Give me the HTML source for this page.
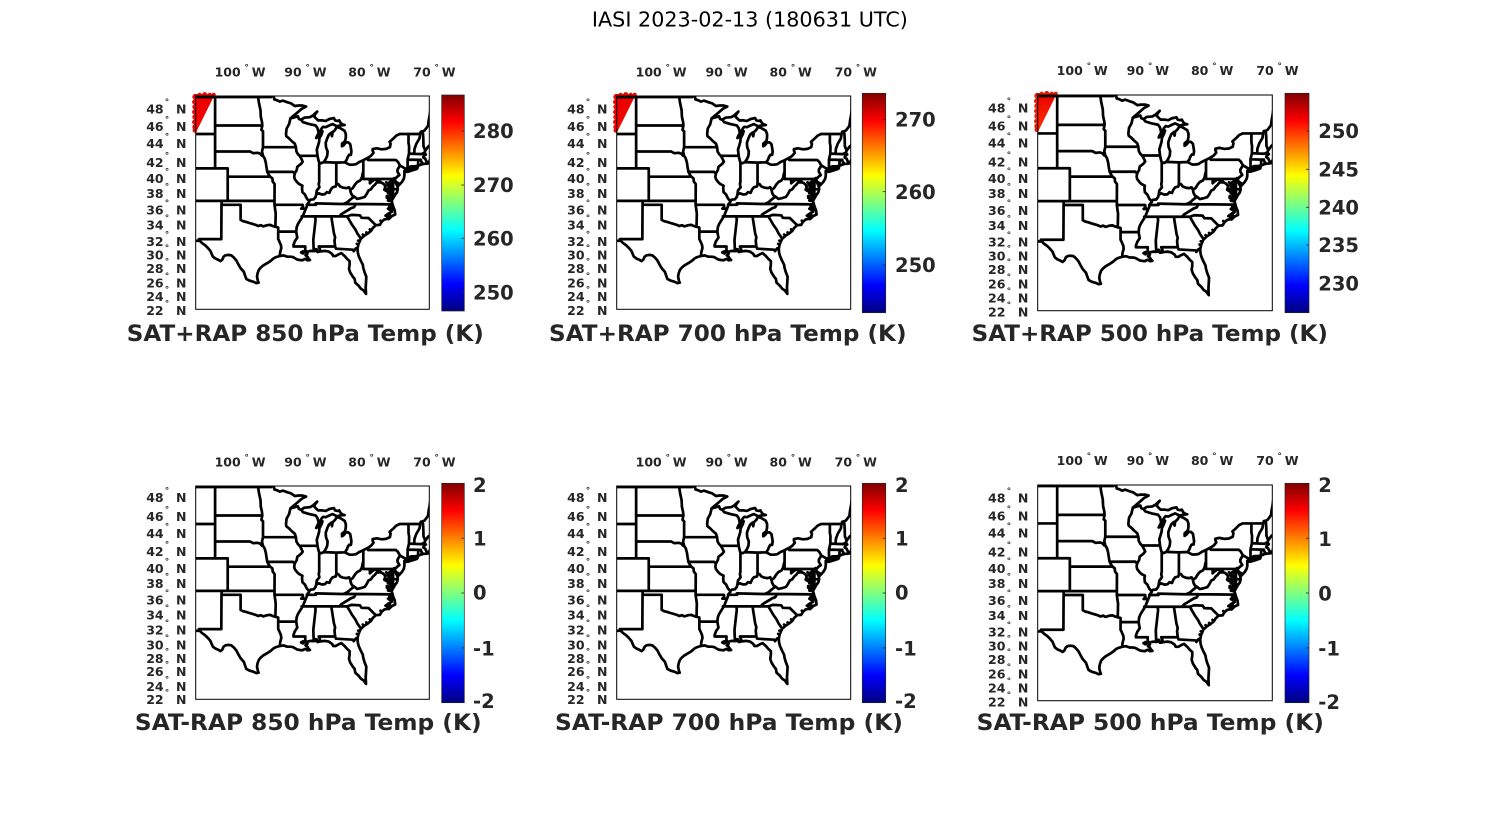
<!DOCTYPE html>
<html><head><meta charset="utf-8"><style>
html,body{margin:0;padding:0;background:#fff;}
svg{display:block;}
.t{font-family:"DejaVu Sans","Liberation Sans",sans-serif;font-weight:bold;font-size:12.5px;fill:#262626;}
.d{font-size:9px;}
.cb{font-family:"DejaVu Sans","Liberation Sans",sans-serif;font-weight:bold;font-size:19.5px;fill:#262626;}
.ti{font-family:"DejaVu Sans","Liberation Sans",sans-serif;font-weight:bold;font-size:22.5px;fill:#262626;}
.map{fill:none;stroke:#000;stroke-width:2.7;stroke-linejoin:round;stroke-linecap:round;}
.box{fill:none;stroke:#000;stroke-width:1;}
.cbr{stroke:#262626;stroke-width:0.7;}
.tk{stroke:#262626;stroke-width:0.8;}
</style></head><body>
<svg width="1500" height="825" viewBox="0 0 1500 825" xmlns="http://www.w3.org/2000/svg">
<defs>
<linearGradient id="jet" x1="0" y1="1" x2="0" y2="0">
<stop offset="0" stop-color="#000080"/><stop offset="0.125" stop-color="#0000ff"/><stop offset="0.375" stop-color="#00ffff"/><stop offset="0.625" stop-color="#ffff00"/><stop offset="0.875" stop-color="#ff0000"/><stop offset="1" stop-color="#800000"/>
</linearGradient>
<linearGradient id="red1" x1="0" y1="0" x2="0" y2="1"><stop offset="0" stop-color="#e80000"/><stop offset="1" stop-color="#f80800"/></linearGradient>
<linearGradient id="red3" x1="0" y1="0" x2="0" y2="1"><stop offset="0" stop-color="#e80000"/><stop offset="1" stop-color="#ff3000"/></linearGradient>
<clipPath id="clip"><rect x="0" y="0" width="233.6" height="213.3"/></clipPath>
<path id="usmap" class="map" d=""/>
<g id="redreg">
<polygon points="-2,-2 19.3,-2 0.5,36 -2,36"/>
<circle cx="-1" cy="1" r="2.4"/><circle cx="-1.5" cy="6" r="2.2"/><circle cx="-1" cy="11" r="2.4"/><circle cx="-1.5" cy="16" r="2.2"/><circle cx="-1" cy="21" r="2.4"/><circle cx="-1.5" cy="26" r="2.2"/><circle cx="-1" cy="31" r="2.4"/><circle cx="-1" cy="34.5" r="2.2"/>
<circle cx="4" cy="-1" r="2.2"/><circle cx="9" cy="-1.5" r="2.4"/><circle cx="14" cy="-1" r="2.2"/><circle cx="18" cy="-1.2" r="2"/>
</g>
</defs>

<text x="749.9" y="26.7" text-anchor="middle" textLength="316" lengthAdjust="spacingAndGlyphs" style="font-family:'DejaVu Sans','Liberation Sans',sans-serif;font-size:20.5px;fill:#000;">IASI 2023-02-13 (180631 UTC)</text>

<!-- ============ PANEL 1 TOP ============ -->
<g transform="translate(195.7,96)">
<use href="#redreg" fill="url(#red1)"/>
<g clip-path="url(#clip)"><use href="#usmap"/></g>
<rect class="box" x="0" y="0" width="233.6" height="213.3"/>
<g class="t">
<text x="18.9" y="-19.7">100<tspan x="48.7" dy="-6" class="d">°</tspan><tspan x="56" dy="6">W</tspan></text>
<text x="88.6" y="-19.7">90<tspan x="109.7" dy="-6" class="d">°</tspan><tspan x="117" dy="6">W</tspan></text>
<text x="152.6" y="-19.7">80<tspan x="173.7" dy="-6" class="d">°</tspan><tspan x="181" dy="6">W</tspan></text>
<text x="217.6" y="-19.7">70<tspan x="238.7" dy="-6" class="d">°</tspan><tspan x="246" dy="6">W</tspan></text>
<text x="-49.5" y="17.5">48<tspan x="-30.9" dy="-8.5" class="d">°</tspan><tspan x="-19.7" dy="8.5">N</tspan></text>
<text x="-49.5" y="35.2">46<tspan x="-30.9" dy="-8.5" class="d">°</tspan><tspan x="-19.7" dy="8.5">N</tspan></text>
<text x="-49.5" y="51.8">44<tspan x="-30.9" dy="-8.5" class="d">°</tspan><tspan x="-19.7" dy="8.5">N</tspan></text>
<text x="-49.5" y="70.9">42<tspan x="-30.9" dy="-8.5" class="d">°</tspan><tspan x="-19.7" dy="8.5">N</tspan></text>
<text x="-49.5" y="86.8">40<tspan x="-30.9" dy="-8.5" class="d">°</tspan><tspan x="-19.7" dy="8.5">N</tspan></text>
<text x="-49.5" y="101.8">38<tspan x="-30.9" dy="-8.5" class="d">°</tspan><tspan x="-19.7" dy="8.5">N</tspan></text>
<text x="-49.5" y="118.5">36<tspan x="-30.9" dy="-8.5" class="d">°</tspan><tspan x="-19.7" dy="8.5">N</tspan></text>
<text x="-49.5" y="133.5">34<tspan x="-30.9" dy="-8.5" class="d">°</tspan><tspan x="-19.7" dy="8.5">N</tspan></text>
<text x="-49.5" y="149.8">32<tspan x="-30.9" dy="-8.5" class="d">°</tspan><tspan x="-19.7" dy="8.5">N</tspan></text>
<text x="-49.5" y="163.5">30<tspan x="-30.9" dy="-8.5" class="d">°</tspan><tspan x="-19.7" dy="8.5">N</tspan></text>
<text x="-49.5" y="176.8">28<tspan x="-30.9" dy="-8.5" class="d">°</tspan><tspan x="-19.7" dy="8.5">N</tspan></text>
<text x="-49.5" y="191.3">26<tspan x="-30.9" dy="-8.5" class="d">°</tspan><tspan x="-19.7" dy="8.5">N</tspan></text>
<text x="-49.5" y="205.2">24<tspan x="-30.9" dy="-8.5" class="d">°</tspan><tspan x="-19.7" dy="8.5">N</tspan></text>
<text x="-49.5" y="219.2">22<tspan x="-30.9" dy="-8.5" class="d">°</tspan><tspan x="-19.7" dy="8.5">N</tspan></text>
</g>
</g>
<rect class="cbr" x="441.7" y="95" width="22.6" height="216" fill="url(#jet)"/>
<g class="tk"><line x1="461.3" y1="131" x2="464.3" y2="131"/><line x1="461.3" y1="185" x2="464.3" y2="185"/><line x1="461.3" y1="238.3" x2="464.3" y2="238.3"/><line x1="461.3" y1="292.3" x2="464.3" y2="292.3"/></g>
<g class="cb"><text x="473" y="138.1">280</text><text x="473" y="192.1">270</text><text x="473" y="245.4">260</text><text x="473" y="299.4">250</text></g>
<text class="ti" x="305.3" y="341" text-anchor="middle" textLength="357" lengthAdjust="spacingAndGlyphs">SAT+RAP 850 hPa Temp (K)</text>

<!-- ============ PANEL 2 TOP ============ -->
<g transform="translate(616.7,96) scale(1.0017,1)">
<use href="#redreg" fill="url(#red1)"/>
<g clip-path="url(#clip)"><use href="#usmap"/></g>
<rect class="box" x="0" y="0" width="233.6" height="213.3"/>
<g class="t">
<text x="18.9" y="-19.7">100<tspan x="48.7" dy="-6" class="d">°</tspan><tspan x="56" dy="6">W</tspan></text>
<text x="88.6" y="-19.7">90<tspan x="109.7" dy="-6" class="d">°</tspan><tspan x="117" dy="6">W</tspan></text>
<text x="152.6" y="-19.7">80<tspan x="173.7" dy="-6" class="d">°</tspan><tspan x="181" dy="6">W</tspan></text>
<text x="217.6" y="-19.7">70<tspan x="238.7" dy="-6" class="d">°</tspan><tspan x="246" dy="6">W</tspan></text>
<text x="-49.5" y="17.5">48<tspan x="-30.9" dy="-8.5" class="d">°</tspan><tspan x="-19.7" dy="8.5">N</tspan></text>
<text x="-49.5" y="35.2">46<tspan x="-30.9" dy="-8.5" class="d">°</tspan><tspan x="-19.7" dy="8.5">N</tspan></text>
<text x="-49.5" y="51.8">44<tspan x="-30.9" dy="-8.5" class="d">°</tspan><tspan x="-19.7" dy="8.5">N</tspan></text>
<text x="-49.5" y="70.9">42<tspan x="-30.9" dy="-8.5" class="d">°</tspan><tspan x="-19.7" dy="8.5">N</tspan></text>
<text x="-49.5" y="86.8">40<tspan x="-30.9" dy="-8.5" class="d">°</tspan><tspan x="-19.7" dy="8.5">N</tspan></text>
<text x="-49.5" y="101.8">38<tspan x="-30.9" dy="-8.5" class="d">°</tspan><tspan x="-19.7" dy="8.5">N</tspan></text>
<text x="-49.5" y="118.5">36<tspan x="-30.9" dy="-8.5" class="d">°</tspan><tspan x="-19.7" dy="8.5">N</tspan></text>
<text x="-49.5" y="133.5">34<tspan x="-30.9" dy="-8.5" class="d">°</tspan><tspan x="-19.7" dy="8.5">N</tspan></text>
<text x="-49.5" y="149.8">32<tspan x="-30.9" dy="-8.5" class="d">°</tspan><tspan x="-19.7" dy="8.5">N</tspan></text>
<text x="-49.5" y="163.5">30<tspan x="-30.9" dy="-8.5" class="d">°</tspan><tspan x="-19.7" dy="8.5">N</tspan></text>
<text x="-49.5" y="176.8">28<tspan x="-30.9" dy="-8.5" class="d">°</tspan><tspan x="-19.7" dy="8.5">N</tspan></text>
<text x="-49.5" y="191.3">26<tspan x="-30.9" dy="-8.5" class="d">°</tspan><tspan x="-19.7" dy="8.5">N</tspan></text>
<text x="-49.5" y="205.2">24<tspan x="-30.9" dy="-8.5" class="d">°</tspan><tspan x="-19.7" dy="8.5">N</tspan></text>
<text x="-49.5" y="219.2">22<tspan x="-30.9" dy="-8.5" class="d">°</tspan><tspan x="-19.7" dy="8.5">N</tspan></text>
</g>
</g>
<rect class="cbr" x="862.3" y="93.3" width="23.4" height="219.4" fill="url(#jet)"/>
<g class="tk"><line x1="882.7" y1="119.3" x2="885.7" y2="119.3"/><line x1="882.7" y1="191.7" x2="885.7" y2="191.7"/><line x1="882.7" y1="265" x2="885.7" y2="265"/></g>
<g class="cb"><text x="895" y="126.4">270</text><text x="895" y="198.8">260</text><text x="895" y="272.1">250</text></g>
<text class="ti" x="727.8" y="341" text-anchor="middle" textLength="357.5" lengthAdjust="spacingAndGlyphs">SAT+RAP 700 hPa Temp (K)</text>

<!-- ============ PANEL 3 TOP ============ -->
<g transform="translate(1037.7,95) scale(1.0043,1.0113)">
<use href="#redreg" fill="url(#red3)"/>
<g clip-path="url(#clip)"><use href="#usmap"/></g>
<rect class="box" x="0" y="0" width="233.6" height="213.3"/>
<g class="t">
<text x="18.9" y="-19.7">100<tspan x="48.7" dy="-6" class="d">°</tspan><tspan x="56" dy="6">W</tspan></text>
<text x="88.6" y="-19.7">90<tspan x="109.7" dy="-6" class="d">°</tspan><tspan x="117" dy="6">W</tspan></text>
<text x="152.6" y="-19.7">80<tspan x="173.7" dy="-6" class="d">°</tspan><tspan x="181" dy="6">W</tspan></text>
<text x="217.6" y="-19.7">70<tspan x="238.7" dy="-6" class="d">°</tspan><tspan x="246" dy="6">W</tspan></text>
<text x="-49.5" y="17.5">48<tspan x="-30.9" dy="-8.5" class="d">°</tspan><tspan x="-19.7" dy="8.5">N</tspan></text>
<text x="-49.5" y="35.2">46<tspan x="-30.9" dy="-8.5" class="d">°</tspan><tspan x="-19.7" dy="8.5">N</tspan></text>
<text x="-49.5" y="51.8">44<tspan x="-30.9" dy="-8.5" class="d">°</tspan><tspan x="-19.7" dy="8.5">N</tspan></text>
<text x="-49.5" y="70.9">42<tspan x="-30.9" dy="-8.5" class="d">°</tspan><tspan x="-19.7" dy="8.5">N</tspan></text>
<text x="-49.5" y="86.8">40<tspan x="-30.9" dy="-8.5" class="d">°</tspan><tspan x="-19.7" dy="8.5">N</tspan></text>
<text x="-49.5" y="101.8">38<tspan x="-30.9" dy="-8.5" class="d">°</tspan><tspan x="-19.7" dy="8.5">N</tspan></text>
<text x="-49.5" y="118.5">36<tspan x="-30.9" dy="-8.5" class="d">°</tspan><tspan x="-19.7" dy="8.5">N</tspan></text>
<text x="-49.5" y="133.5">34<tspan x="-30.9" dy="-8.5" class="d">°</tspan><tspan x="-19.7" dy="8.5">N</tspan></text>
<text x="-49.5" y="149.8">32<tspan x="-30.9" dy="-8.5" class="d">°</tspan><tspan x="-19.7" dy="8.5">N</tspan></text>
<text x="-49.5" y="163.5">30<tspan x="-30.9" dy="-8.5" class="d">°</tspan><tspan x="-19.7" dy="8.5">N</tspan></text>
<text x="-49.5" y="176.8">28<tspan x="-30.9" dy="-8.5" class="d">°</tspan><tspan x="-19.7" dy="8.5">N</tspan></text>
<text x="-49.5" y="191.3">26<tspan x="-30.9" dy="-8.5" class="d">°</tspan><tspan x="-19.7" dy="8.5">N</tspan></text>
<text x="-49.5" y="205.2">24<tspan x="-30.9" dy="-8.5" class="d">°</tspan><tspan x="-19.7" dy="8.5">N</tspan></text>
<text x="-49.5" y="219.2">22<tspan x="-30.9" dy="-8.5" class="d">°</tspan><tspan x="-19.7" dy="8.5">N</tspan></text>
</g>
</g>
<rect class="cbr" x="1285" y="93.3" width="24" height="219.4" fill="url(#jet)"/>
<g class="tk"><line x1="1306" y1="131" x2="1309" y2="131"/><line x1="1306" y1="169.3" x2="1309" y2="169.3"/><line x1="1306" y1="207.3" x2="1309" y2="207.3"/><line x1="1306" y1="245" x2="1309" y2="245"/><line x1="1306" y1="283.3" x2="1309" y2="283.3"/></g>
<g class="cb"><text x="1318.3" y="138.1">250</text><text x="1318.3" y="176.4">245</text><text x="1318.3" y="214.4">240</text><text x="1318.3" y="252.1">235</text><text x="1318.3" y="290.4">230</text></g>
<text class="ti" x="1149.8" y="341" text-anchor="middle" textLength="356.3" lengthAdjust="spacingAndGlyphs">SAT+RAP 500 hPa Temp (K)</text>

<!-- ============ PANEL 1 BOTTOM ============ -->
<g transform="translate(195.7,486)">
<g clip-path="url(#clip)"><use href="#usmap"/></g>
<rect class="box" x="0" y="0" width="233.6" height="213.3"/>
<g class="t">
<text x="18.9" y="-19.7">100<tspan x="48.7" dy="-6" class="d">°</tspan><tspan x="56" dy="6">W</tspan></text>
<text x="88.6" y="-19.7">90<tspan x="109.7" dy="-6" class="d">°</tspan><tspan x="117" dy="6">W</tspan></text>
<text x="152.6" y="-19.7">80<tspan x="173.7" dy="-6" class="d">°</tspan><tspan x="181" dy="6">W</tspan></text>
<text x="217.6" y="-19.7">70<tspan x="238.7" dy="-6" class="d">°</tspan><tspan x="246" dy="6">W</tspan></text>
<text x="-49.5" y="16.2">48<tspan x="-30.9" dy="-8.5" class="d">°</tspan><tspan x="-19.7" dy="8.5">N</tspan></text>
<text x="-49.5" y="35.2">46<tspan x="-30.9" dy="-8.5" class="d">°</tspan><tspan x="-19.7" dy="8.5">N</tspan></text>
<text x="-49.5" y="51.8">44<tspan x="-30.9" dy="-8.5" class="d">°</tspan><tspan x="-19.7" dy="8.5">N</tspan></text>
<text x="-49.5" y="70.2">42<tspan x="-30.9" dy="-8.5" class="d">°</tspan><tspan x="-19.7" dy="8.5">N</tspan></text>
<text x="-49.5" y="86.8">40<tspan x="-30.9" dy="-8.5" class="d">°</tspan><tspan x="-19.7" dy="8.5">N</tspan></text>
<text x="-49.5" y="101.8">38<tspan x="-30.9" dy="-8.5" class="d">°</tspan><tspan x="-19.7" dy="8.5">N</tspan></text>
<text x="-49.5" y="118.5">36<tspan x="-30.9" dy="-8.5" class="d">°</tspan><tspan x="-19.7" dy="8.5">N</tspan></text>
<text x="-49.5" y="133.5">34<tspan x="-30.9" dy="-8.5" class="d">°</tspan><tspan x="-19.7" dy="8.5">N</tspan></text>
<text x="-49.5" y="148.5">32<tspan x="-30.9" dy="-8.5" class="d">°</tspan><tspan x="-19.7" dy="8.5">N</tspan></text>
<text x="-49.5" y="163.5">30<tspan x="-30.9" dy="-8.5" class="d">°</tspan><tspan x="-19.7" dy="8.5">N</tspan></text>
<text x="-49.5" y="176.8">28<tspan x="-30.9" dy="-8.5" class="d">°</tspan><tspan x="-19.7" dy="8.5">N</tspan></text>
<text x="-49.5" y="190.2">26<tspan x="-30.9" dy="-8.5" class="d">°</tspan><tspan x="-19.7" dy="8.5">N</tspan></text>
<text x="-49.5" y="205.2">24<tspan x="-30.9" dy="-8.5" class="d">°</tspan><tspan x="-19.7" dy="8.5">N</tspan></text>
<text x="-49.5" y="217.8">22<tspan x="-30.9" dy="-8.5" class="d">°</tspan><tspan x="-19.7" dy="8.5">N</tspan></text>
</g>
</g>
<rect class="cbr" x="441.7" y="483.3" width="22.6" height="219.4" fill="url(#jet)"/>
<g class="tk"><line x1="461.3" y1="538.2" x2="464.3" y2="538.2"/><line x1="461.3" y1="593" x2="464.3" y2="593"/><line x1="461.3" y1="647.9" x2="464.3" y2="647.9"/></g>
<g class="cb"><text x="473" y="492.1">2</text><text x="473" y="545.4">1</text><text x="473" y="599.6">0</text><text x="473" y="655.4">-1</text><text x="473" y="707.8">-2</text></g>
<text class="ti" x="308.3" y="730" text-anchor="middle" textLength="346.7" lengthAdjust="spacingAndGlyphs">SAT-RAP 850 hPa Temp (K)</text>

<!-- ============ PANEL 2 BOTTOM ============ -->
<g transform="translate(616.7,486) scale(1.0017,1)">
<g clip-path="url(#clip)"><use href="#usmap"/></g>
<rect class="box" x="0" y="0" width="233.6" height="213.3"/>
<g class="t">
<text x="18.9" y="-19.7">100<tspan x="48.7" dy="-6" class="d">°</tspan><tspan x="56" dy="6">W</tspan></text>
<text x="88.6" y="-19.7">90<tspan x="109.7" dy="-6" class="d">°</tspan><tspan x="117" dy="6">W</tspan></text>
<text x="152.6" y="-19.7">80<tspan x="173.7" dy="-6" class="d">°</tspan><tspan x="181" dy="6">W</tspan></text>
<text x="217.6" y="-19.7">70<tspan x="238.7" dy="-6" class="d">°</tspan><tspan x="246" dy="6">W</tspan></text>
<text x="-49.5" y="16.2">48<tspan x="-30.9" dy="-8.5" class="d">°</tspan><tspan x="-19.7" dy="8.5">N</tspan></text>
<text x="-49.5" y="35.2">46<tspan x="-30.9" dy="-8.5" class="d">°</tspan><tspan x="-19.7" dy="8.5">N</tspan></text>
<text x="-49.5" y="51.8">44<tspan x="-30.9" dy="-8.5" class="d">°</tspan><tspan x="-19.7" dy="8.5">N</tspan></text>
<text x="-49.5" y="70.2">42<tspan x="-30.9" dy="-8.5" class="d">°</tspan><tspan x="-19.7" dy="8.5">N</tspan></text>
<text x="-49.5" y="86.8">40<tspan x="-30.9" dy="-8.5" class="d">°</tspan><tspan x="-19.7" dy="8.5">N</tspan></text>
<text x="-49.5" y="101.8">38<tspan x="-30.9" dy="-8.5" class="d">°</tspan><tspan x="-19.7" dy="8.5">N</tspan></text>
<text x="-49.5" y="118.5">36<tspan x="-30.9" dy="-8.5" class="d">°</tspan><tspan x="-19.7" dy="8.5">N</tspan></text>
<text x="-49.5" y="133.5">34<tspan x="-30.9" dy="-8.5" class="d">°</tspan><tspan x="-19.7" dy="8.5">N</tspan></text>
<text x="-49.5" y="148.5">32<tspan x="-30.9" dy="-8.5" class="d">°</tspan><tspan x="-19.7" dy="8.5">N</tspan></text>
<text x="-49.5" y="163.5">30<tspan x="-30.9" dy="-8.5" class="d">°</tspan><tspan x="-19.7" dy="8.5">N</tspan></text>
<text x="-49.5" y="176.8">28<tspan x="-30.9" dy="-8.5" class="d">°</tspan><tspan x="-19.7" dy="8.5">N</tspan></text>
<text x="-49.5" y="190.2">26<tspan x="-30.9" dy="-8.5" class="d">°</tspan><tspan x="-19.7" dy="8.5">N</tspan></text>
<text x="-49.5" y="205.2">24<tspan x="-30.9" dy="-8.5" class="d">°</tspan><tspan x="-19.7" dy="8.5">N</tspan></text>
<text x="-49.5" y="217.8">22<tspan x="-30.9" dy="-8.5" class="d">°</tspan><tspan x="-19.7" dy="8.5">N</tspan></text>
</g>
</g>
<rect class="cbr" x="862.3" y="483.3" width="23.4" height="219.4" fill="url(#jet)"/>
<g class="tk"><line x1="882.7" y1="538.2" x2="885.7" y2="538.2"/><line x1="882.7" y1="593" x2="885.7" y2="593"/><line x1="882.7" y1="647.9" x2="885.7" y2="647.9"/></g>
<g class="cb"><text x="895" y="492.1">2</text><text x="895" y="545.4">1</text><text x="895" y="599.6">0</text><text x="895" y="655.4">-1</text><text x="895" y="707.8">-2</text></g>
<text class="ti" x="729" y="730" text-anchor="middle" textLength="348" lengthAdjust="spacingAndGlyphs">SAT-RAP 700 hPa Temp (K)</text>

<!-- ============ PANEL 3 BOTTOM ============ -->
<g transform="translate(1037.7,485) scale(1.0043,1.0113)">
<g clip-path="url(#clip)"><use href="#usmap"/></g>
<rect class="box" x="0" y="0" width="233.6" height="213.3"/>
<g class="t">
<text x="18.9" y="-19.7">100<tspan x="48.7" dy="-6" class="d">°</tspan><tspan x="56" dy="6">W</tspan></text>
<text x="88.6" y="-19.7">90<tspan x="109.7" dy="-6" class="d">°</tspan><tspan x="117" dy="6">W</tspan></text>
<text x="152.6" y="-19.7">80<tspan x="173.7" dy="-6" class="d">°</tspan><tspan x="181" dy="6">W</tspan></text>
<text x="217.6" y="-19.7">70<tspan x="238.7" dy="-6" class="d">°</tspan><tspan x="246" dy="6">W</tspan></text>
<text x="-49.5" y="17.5">48<tspan x="-30.9" dy="-8.5" class="d">°</tspan><tspan x="-19.7" dy="8.5">N</tspan></text>
<text x="-49.5" y="35.2">46<tspan x="-30.9" dy="-8.5" class="d">°</tspan><tspan x="-19.7" dy="8.5">N</tspan></text>
<text x="-49.5" y="51.8">44<tspan x="-30.9" dy="-8.5" class="d">°</tspan><tspan x="-19.7" dy="8.5">N</tspan></text>
<text x="-49.5" y="70.9">42<tspan x="-30.9" dy="-8.5" class="d">°</tspan><tspan x="-19.7" dy="8.5">N</tspan></text>
<text x="-49.5" y="86.8">40<tspan x="-30.9" dy="-8.5" class="d">°</tspan><tspan x="-19.7" dy="8.5">N</tspan></text>
<text x="-49.5" y="101.8">38<tspan x="-30.9" dy="-8.5" class="d">°</tspan><tspan x="-19.7" dy="8.5">N</tspan></text>
<text x="-49.5" y="118.5">36<tspan x="-30.9" dy="-8.5" class="d">°</tspan><tspan x="-19.7" dy="8.5">N</tspan></text>
<text x="-49.5" y="133.5">34<tspan x="-30.9" dy="-8.5" class="d">°</tspan><tspan x="-19.7" dy="8.5">N</tspan></text>
<text x="-49.5" y="149.8">32<tspan x="-30.9" dy="-8.5" class="d">°</tspan><tspan x="-19.7" dy="8.5">N</tspan></text>
<text x="-49.5" y="163.5">30<tspan x="-30.9" dy="-8.5" class="d">°</tspan><tspan x="-19.7" dy="8.5">N</tspan></text>
<text x="-49.5" y="176.8">28<tspan x="-30.9" dy="-8.5" class="d">°</tspan><tspan x="-19.7" dy="8.5">N</tspan></text>
<text x="-49.5" y="191.3">26<tspan x="-30.9" dy="-8.5" class="d">°</tspan><tspan x="-19.7" dy="8.5">N</tspan></text>
<text x="-49.5" y="205.2">24<tspan x="-30.9" dy="-8.5" class="d">°</tspan><tspan x="-19.7" dy="8.5">N</tspan></text>
<text x="-49.5" y="219.2">22<tspan x="-30.9" dy="-8.5" class="d">°</tspan><tspan x="-19.7" dy="8.5">N</tspan></text>
</g>
</g>
<rect class="cbr" x="1285" y="483.3" width="24" height="219.4" fill="url(#jet)"/>
<g class="tk"><line x1="1306" y1="538.2" x2="1309" y2="538.2"/><line x1="1306" y1="593" x2="1309" y2="593"/><line x1="1306" y1="647.9" x2="1309" y2="647.9"/></g>
<g class="cb"><text x="1318.3" y="492.1">2</text><text x="1318.3" y="546.1">1</text><text x="1318.3" y="600.4">0</text><text x="1318.3" y="655.4">-1</text><text x="1318.3" y="708.8">-2</text></g>
<text class="ti" x="1150.3" y="730" text-anchor="middle" textLength="347.3" lengthAdjust="spacingAndGlyphs">SAT-RAP 500 hPa Temp (K)</text>
</svg>
<script>
(function(){
var L=[
[[-107.3,49.0],[-95.15,49.0],[-95.15,49.38],[-94.8,49.3],[-94.65,48.75],[-94.2,48.65],[-93.8,48.52],[-93.3,48.62],[-92.6,48.45],[-92.0,48.33],[-91.4,48.05],[-90.8,48.1],[-90.2,48.1],[-89.6,48.0],[-90.3,47.75],[-91.0,47.35],[-91.7,46.95],[-92.1,46.72]],
[[-92.1,46.72],[-91.4,46.85],[-90.9,46.95],[-90.75,46.65],[-90.4,46.57]],
[[-90.4,46.57],[-89.9,46.8],[-89.0,46.85],[-88.5,47.05],[-88.1,47.3],[-87.85,47.45],[-88.2,47.15],[-88.3,46.9],[-87.7,46.5],[-87.0,46.5],[-86.5,46.45],[-85.9,46.65],[-85.2,46.75],[-85.0,46.5],[-84.6,46.45],[-84.35,46.5],[-84.1,46.2],[-83.8,46.05],[-83.5,46.0],[-84.2,45.95],[-84.7,45.85],[-85.4,46.1],[-85.9,45.95],[-86.5,45.75],[-86.9,45.8],[-87.1,45.65],[-87.4,45.3],[-87.6,45.1]],
[[-87.6,45.1],[-87.85,44.8],[-88.0,44.55],[-87.7,44.7],[-87.4,44.95],[-87.0,45.3],[-87.2,44.9],[-87.5,44.5],[-87.55,44.1],[-87.7,43.7],[-87.9,43.2],[-87.85,42.8],[-87.8,42.5],[-87.65,42.0],[-87.53,41.7],[-87.2,41.62],[-86.82,41.76]],
[[-86.82,41.76],[-86.5,42.1],[-86.25,42.5],[-86.2,43.0],[-86.45,43.5],[-86.5,44.0],[-86.25,44.5],[-86.0,44.9],[-85.6,45.15],[-85.5,44.75],[-85.4,45.2],[-85.0,45.45],[-84.75,45.78],[-84.2,45.65],[-83.5,45.35],[-83.3,45.0],[-83.3,44.6],[-83.4,44.2],[-83.9,43.9],[-83.9,43.6],[-83.6,43.75],[-83.3,44.05],[-82.9,44.05],[-82.6,43.85],[-82.5,43.4],[-82.42,43.0],[-82.5,42.6],[-82.8,42.6],[-83.0,42.35],[-83.15,42.05],[-83.45,41.73]],
[[-83.45,41.73],[-83.0,41.55],[-82.7,41.45],[-82.2,41.45],[-81.7,41.5],[-81.2,41.75],[-80.52,41.98],[-79.76,42.27],[-79.3,42.5],[-78.9,42.85],[-79.05,43.1],[-79.05,43.27],[-78.4,43.37],[-77.6,43.25],[-76.9,43.3],[-76.3,43.5],[-76.2,43.9],[-76.35,44.1],[-75.8,44.45],[-75.3,44.8],[-74.75,45.0],[-73.35,45.0],[-71.5,45.01],[-71.4,45.25],[-71.08,45.3],[-70.8,45.4],[-70.25,45.9],[-70.15,46.5],[-70.0,47.0],[-69.9,47.5]],
[[-71.08,45.3],[-71.0,44.5],[-70.97,43.6],[-70.8,43.3],[-70.7,43.08],[-70.5,43.3],[-70.2,43.6],[-69.8,43.8]],
[[-70.7,43.08],[-70.82,42.87],[-70.6,42.65],[-70.95,42.45],[-71.0,42.3],[-70.7,42.15],[-70.5,41.8],[-70.0,41.75],[-69.95,42.05]],
[[-69.95,41.65],[-70.6,41.55],[-70.9,41.55],[-71.15,41.5],[-71.2,41.65],[-71.4,41.45],[-71.85,41.32],[-72.3,41.27],[-72.9,41.25],[-73.4,41.1],[-73.65,40.98],[-73.8,40.8],[-74.0,40.7]],
[[-74.0,40.58],[-73.5,40.6],[-72.8,40.75],[-72.0,40.95],[-71.9,41.07],[-72.4,40.98],[-73.0,40.95],[-73.5,40.9],[-73.8,40.8]],
[[-74.0,40.5],[-74.0,40.1],[-74.1,39.75],[-74.4,39.35],[-74.9,38.93],[-74.95,39.2],[-75.3,39.35],[-75.55,39.6]],
[[-75.55,39.6],[-75.4,39.3],[-75.1,38.8],[-75.05,38.45],[-75.2,38.05],[-75.45,37.8],[-75.7,37.45],[-75.95,37.1],[-75.9,37.6],[-75.8,38.0],[-76.1,38.3],[-76.3,38.7],[-76.1,39.0],[-76.2,39.3],[-75.95,39.55],[-76.1,39.45],[-76.4,39.3],[-76.5,39.0],[-76.5,38.6],[-76.4,38.3],[-76.3,38.05],[-76.25,37.7],[-76.3,37.4],[-76.35,37.1],[-76.0,36.92],[-75.95,36.75],[-75.87,36.55],[-75.75,36.2],[-75.55,35.8],[-75.47,35.25],[-76.0,35.05],[-76.5,34.65],[-76.7,34.7],[-77.2,34.6],[-77.6,34.3],[-77.9,33.9],[-78.0,33.9],[-78.55,33.85],[-79.0,33.5],[-79.3,33.1],[-79.9,32.7],[-80.4,32.45],[-80.7,32.2],[-80.9,32.05],[-81.1,31.7],[-81.3,31.3],[-81.45,30.7],[-81.4,30.2],[-81.25,29.7],[-80.95,29.1],[-80.6,28.5],[-80.55,28.1],[-80.35,27.5],[-80.05,26.8],[-80.1,26.0],[-80.15,25.3],[-80.1,24.35],[-80.5,24.85],[-80.9,25.1],[-81.3,25.55],[-81.8,25.95],[-81.9,26.5],[-82.2,26.8],[-82.6,27.4],[-82.8,27.9],[-82.7,28.5],[-82.7,29.0],[-83.1,29.3],[-83.5,29.7],[-84.0,30.1],[-84.4,29.95],[-84.9,29.7],[-85.3,29.7],[-85.5,30.0],[-86.0,30.3],[-86.6,30.4],[-87.2,30.35],[-87.5,30.3],[-87.8,30.25],[-87.9,30.6],[-88.05,30.65],[-88.1,30.4],[-88.4,30.38],[-88.9,30.4],[-89.35,30.3],[-89.6,30.2],[-89.4,30.0],[-89.7,29.8],[-89.4,29.6],[-89.2,29.3],[-89.0,29.15],[-89.4,29.1],[-89.7,29.3],[-90.0,29.2],[-90.2,29.1],[-90.6,29.15],[-91.0,29.2],[-91.3,29.35],[-91.7,29.55],[-92.1,29.6],[-92.6,29.6],[-93.2,29.78],[-93.8,29.7],[-94.5,29.5],[-94.8,29.35],[-95.2,29.05],[-95.8,28.7],[-96.4,28.4],[-96.8,28.1],[-97.1,27.8],[-97.3,27.3],[-97.4,26.8],[-97.25,26.2],[-97.15,25.95],[-97.5,25.9],[-98.0,26.1],[-98.6,26.25],[-99.1,26.5],[-99.3,27.0],[-99.5,27.5],[-100.0,28.0],[-100.4,28.6],[-100.7,29.1],[-101.1,29.5],[-101.5,29.8],[-102.0,29.85],[-102.4,29.8],[-102.7,29.6],[-102.9,29.2],[-103.2,29.0],[-103.6,29.2],[-104.0,29.35],[-104.4,29.6],[-104.6,30.0],[-104.8,30.4],[-105.2,30.8],[-105.6,31.15],[-106.1,31.45],[-106.5,31.78],[-106.62,32.0],[-103.06,32.0],[-103.04,36.5],[-103.0,37.0]],
[[-76.3,37.5],[-76.8,37.6]],[[-76.4,37.2],[-76.8,37.4]],[[-76.4,38.3],[-76.8,38.5]],[[-76.0,38.4],[-75.7,38.5]],[[-76.0,38.0],[-75.8,38.2]],[[-76.6,39.2],[-76.9,39.3]],[[-76.1,38.7],[-75.85,38.8]],
[[-76.3,37.9],[-76.6,37.95]],[[-76.0,37.6],[-75.75,37.7]],[[-76.2,38.55],[-75.9,38.6]],[[-76.45,38.9],[-76.75,38.95]],[[-76.3,37.0],[-76.6,37.05]],
[[-75.9,36.5],[-76.3,36.2],[-76.6,36.0],[-76.2,35.8],[-76.0,35.6],[-76.5,35.4],[-77.0,35.1],[-76.5,35.0],[-76.7,34.85]],
[[-76.0,36.3],[-76.4,36.35]],[[-75.8,35.9],[-76.1,35.95]],[[-76.3,35.2],[-76.6,35.25]],
[[-77.6,34.3],[-77.8,34.45]],[[-79.3,33.1],[-79.5,33.3]],[[-79.9,32.7],[-80.05,32.9]],[[-80.4,32.45],[-80.6,32.6]],[[-81.1,31.7],[-81.35,31.8]],[[-81.3,31.3],[-81.55,31.35]],
[[-90.4,30.2],[-90.1,30.35],[-89.8,30.25],[-90.1,30.05],[-90.4,30.2]],
[[-107.3,31.78],[-106.53,31.78]],
[[-103.04,36.5],[-100.0,36.5],[-100.0,34.56],[-99.6,34.38],[-99.2,34.3],[-98.6,34.15],[-98.0,34.0],[-97.6,33.9],[-97.2,33.75],[-96.8,33.85],[-96.4,33.7],[-95.8,33.85],[-95.3,33.9],[-94.9,33.75],[-94.48,33.64],[-94.04,33.55],[-94.04,33.02],[-94.04,32.0],[-93.9,31.8],[-93.6,31.2],[-93.55,30.8],[-93.7,30.3],[-93.8,29.7]],
[[-94.43,35.4],[-94.48,33.64]],
[[-94.04,33.02],[-91.17,33.0]],
[[-92.1,46.72],[-92.3,46.1],[-92.7,45.6],[-92.8,45.0],[-92.75,44.75],[-92.3,44.5],[-91.9,44.2],[-91.4,43.9],[-91.22,43.5],[-91.15,43.0],[-90.9,42.7],[-90.64,42.5],[-90.4,42.2],[-90.15,41.8],[-90.4,41.55],[-91.0,41.2],[-91.1,40.8],[-91.42,40.38],[-91.5,40.0],[-91.4,39.7],[-91.0,39.3],[-90.7,39.1],[-90.2,38.9],[-90.25,38.6],[-90.2,38.1],[-89.8,37.8],[-89.5,37.3],[-89.15,37.0],[-89.1,36.9],[-89.4,36.6],[-89.55,36.2],[-89.7,35.9],[-89.9,35.5],[-90.1,35.1],[-90.3,34.8],[-90.6,34.4],[-90.9,34.0],[-91.1,33.6],[-91.17,33.0],[-91.1,32.6],[-91.0,32.2],[-91.4,31.7],[-91.6,31.2],[-91.6,31.0],[-89.73,31.0],[-89.75,30.6],[-89.6,30.2]],
[[-88.2,35.0],[-88.1,34.6],[-88.47,31.9],[-88.4,30.38]],
[[-85.6,35.0],[-85.2,32.8],[-85.0,32.25],[-85.1,31.8],[-85.0,31.0],[-87.6,31.0],[-87.4,30.6],[-87.5,30.3]],
[[-85.0,31.0],[-84.86,30.7],[-82.2,30.57],[-82.0,30.5],[-82.05,30.36],[-81.7,30.75],[-81.45,30.7]],
[[-83.1,35.0],[-82.8,34.6],[-82.3,33.9],[-81.8,33.3],[-81.5,32.8],[-81.1,32.3],[-80.9,32.05]],
[[-90.3,35.0],[-83.1,35.0],[-82.4,35.2],[-81.05,35.15],[-80.95,35.0],[-80.8,34.82],[-79.7,34.8],[-78.55,33.85]],
[[-84.3,35.0],[-84.0,35.3],[-83.5,35.55],[-83.0,35.8],[-82.5,36.05],[-82.0,36.2],[-81.7,36.6]],
[[-89.5,36.5],[-88.05,36.5],[-88.1,36.68],[-84.0,36.6],[-81.68,36.6],[-75.87,36.55]],
[[-83.68,36.6],[-83.1,36.8],[-82.6,37.15],[-81.97,37.54],[-82.3,37.7],[-82.5,38.0],[-82.6,38.4]],
[[-81.97,37.54],[-81.5,37.25],[-80.9,37.35],[-80.3,37.5],[-80.0,37.85],[-79.7,38.3],[-79.3,38.45],[-79.0,38.8],[-78.7,39.0],[-78.4,39.3],[-77.75,39.32],[-78.2,39.65],[-78.8,39.62],[-79.2,39.4],[-79.48,39.2],[-79.48,39.72]],
[[-77.75,39.32],[-77.45,39.2],[-77.1,38.95],[-77.05,38.7],[-77.2,38.4],[-76.9,38.25],[-76.3,38.05]],
[[-80.52,41.98],[-80.52,39.72],[-75.79,39.72],[-75.79,38.46],[-75.05,38.46]],
[[-75.79,39.72],[-75.6,39.83],[-75.4,39.8],[-75.15,40.0],[-74.8,40.2],[-75.1,40.6],[-75.1,40.85],[-74.7,41.35],[-75.05,41.8],[-75.35,42.0],[-79.76,42.0],[-79.76,42.27]],
[[-74.7,41.35],[-73.9,41.0]],
[[-80.52,40.64],[-80.65,40.3],[-80.75,39.9],[-81.0,39.55],[-81.5,39.35],[-81.8,39.1],[-82.0,38.85],[-82.2,38.6],[-82.6,38.4],[-82.8,38.7],[-83.2,38.6],[-83.7,38.65],[-84.2,38.8],[-84.5,39.1],[-84.82,39.1],[-84.9,38.8],[-85.4,38.7],[-85.7,38.4],[-85.9,38.0],[-86.3,38.1],[-86.6,37.85],[-87.1,37.8],[-87.6,37.95],[-88.0,37.8],[-88.1,37.5],[-88.4,37.2],[-88.9,37.15],[-89.15,37.0]],
[[-87.53,41.7],[-87.53,39.35],[-87.6,39.1],[-87.5,38.7],[-87.9,38.3],[-88.0,37.8]],
[[-84.82,41.7],[-84.82,39.1]],
[[-86.82,41.76],[-84.8,41.7],[-83.45,41.73]],
[[-90.64,42.5],[-87.8,42.5]],
[[-90.4,46.57],[-90.1,46.3],[-89.1,46.1],[-88.1,45.95],[-87.8,45.65],[-87.6,45.1]],
[[-96.45,43.5],[-91.22,43.5]],
[[-95.77,40.58],[-91.7,40.6],[-91.42,40.38]],
[[-97.23,49.0],[-97.1,48.4],[-96.85,47.6],[-96.8,46.9],[-96.6,46.3],[-96.56,45.94],[-96.7,45.45],[-96.45,45.3],[-96.45,43.5],[-96.6,43.0],[-96.45,42.5],[-96.2,42.2],[-96.0,41.7],[-95.9,41.2],[-95.77,40.58],[-95.5,40.2],[-95.3,40.0],[-94.95,39.8],[-94.9,39.4],[-94.6,39.1],[-94.62,36.5],[-94.43,35.4]],
[[-104.05,43.0],[-98.5,43.0],[-98.0,42.8],[-97.3,42.85],[-96.9,42.75],[-96.6,42.5],[-96.45,42.5]],
[[-104.05,45.94],[-96.56,45.94]],
[[-104.05,49.2],[-104.05,41.0]],
[[-107.3,45.0],[-104.05,45.0]],
[[-107.3,41.0],[-102.05,41.0],[-102.05,37.0]],
[[-102.05,40.0],[-95.3,40.0]],
[[-107.3,37.0],[-94.62,37.0]],
[[-94.62,36.5],[-90.15,36.5],[-90.1,36.25],[-90.38,36.0],[-89.7,36.0]],
[[-72.45,42.73],[-72.4,43.3],[-72.1,43.9],[-71.6,44.5],[-71.5,45.01]],
[[-73.35,45.0],[-73.35,44.0],[-73.25,43.6],[-73.27,42.75],[-71.3,42.7],[-70.82,42.87]],
[[-73.27,42.75],[-73.5,42.05],[-73.5,41.1],[-73.65,40.98]],
[[-73.5,42.05],[-71.8,42.02],[-71.38,42.02],[-71.38,41.9],[-71.2,41.7],[-71.12,41.5]],
[[-71.8,42.02],[-71.85,41.32]]
];
function M(lat){return 180/Math.PI*Math.log(Math.tan(Math.PI/4+lat*Math.PI/360));}
function px(lon){return (lon+107.13)*6.3;}
function py(lat){return 356.1-6.3*M(lat);}
var d='';
for(var i=0;i<L.length;i++){
  var ln=L[i];
  for(var j=0;j<ln.length;j++){
    d+=(j?'L':'M')+px(ln[j][0]).toFixed(1)+' '+py(ln[j][1]).toFixed(1);
  }
}
document.getElementById('usmap').setAttribute('d',d);
})();
</script>
</body></html>
